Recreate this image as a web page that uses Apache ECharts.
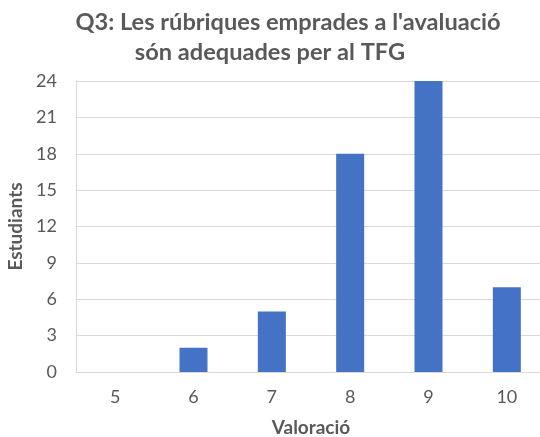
<!DOCTYPE html>
<html><head><meta charset="utf-8">
<script src="https://cdn.jsdelivr.net/npm/echarts@6/dist/echarts.min.js"></script>
<style>html,body{margin:0;padding:0;background:#fff;overflow:hidden}#c{width:540px;height:437px}</style>
</head><body><div id="c"></div>
<script>
const categories = ['5','6','7','8','9','10'];
const values = [0, 2, 5, 18, 24, 7];
const yTicks = [0,3,6,9,12,15,18,21,24];
const titleLines = ["Q3: Les rúbriques emprades a l'avaluació", "són adequades per al TFG"];
const chart = echarts.init(document.getElementById('c'));
const font = 'Lato, "Open Sans", sans-serif';
chart.setOption({
  animation: false,
  title: [
    {text: titleLines[0], left: 283, top: 5, textAlign: 'center',
     textStyle: {fontFamily: font, fontSize: 23.6, fontWeight: 'bold', color: '#595959'}},
    {text: titleLines[1], left: 265, top: 35, textAlign: 'center',
     textStyle: {fontFamily: font, fontSize: 23.6, fontWeight: 'bold', color: '#595959'}}
  ],
  grid: {left: 76, top: 81, bottom: 65, right: -6, containLabel: false, outerBoundsMode: 'none'},
  xAxis: {
    type: 'category', data: categories,
    name: 'Valoració', nameLocation: 'middle', nameGap: 46,
    nameTextStyle: {fontFamily: font, fontSize: 19, fontWeight: 'bold', color: '#595959'},
    axisLine: {show: true, lineStyle: {color: '#d9d9d9'}},
    axisTick: {show: false},
    axisLabel: {fontFamily: font, fontSize: 18, color: '#595959', margin: 16}
  },
  yAxis: {
    type: 'value', min: yTicks[0], max: yTicks[yTicks.length-1], interval: 3,
    name: 'Estudiants', nameLocation: 'middle', nameGap: 47, nameRotate: 90,
    nameTextStyle: {fontFamily: font, fontSize: 19, fontWeight: 'bold', color: '#595959'},
    axisLine: {show: true, lineStyle: {color: '#d9d9d9'}},
    axisTick: {show: false},
    axisLabel: {fontFamily: font, fontSize: 18, color: '#595959', margin: 19},
    splitLine: {show: true, lineStyle: {color: '#d9d9d9'}}
  },
  series: [{
    type: 'bar', data: values, barWidth: 28,
    itemStyle: {color: '#4472C4'}
  }]
});
</script></body></html>
